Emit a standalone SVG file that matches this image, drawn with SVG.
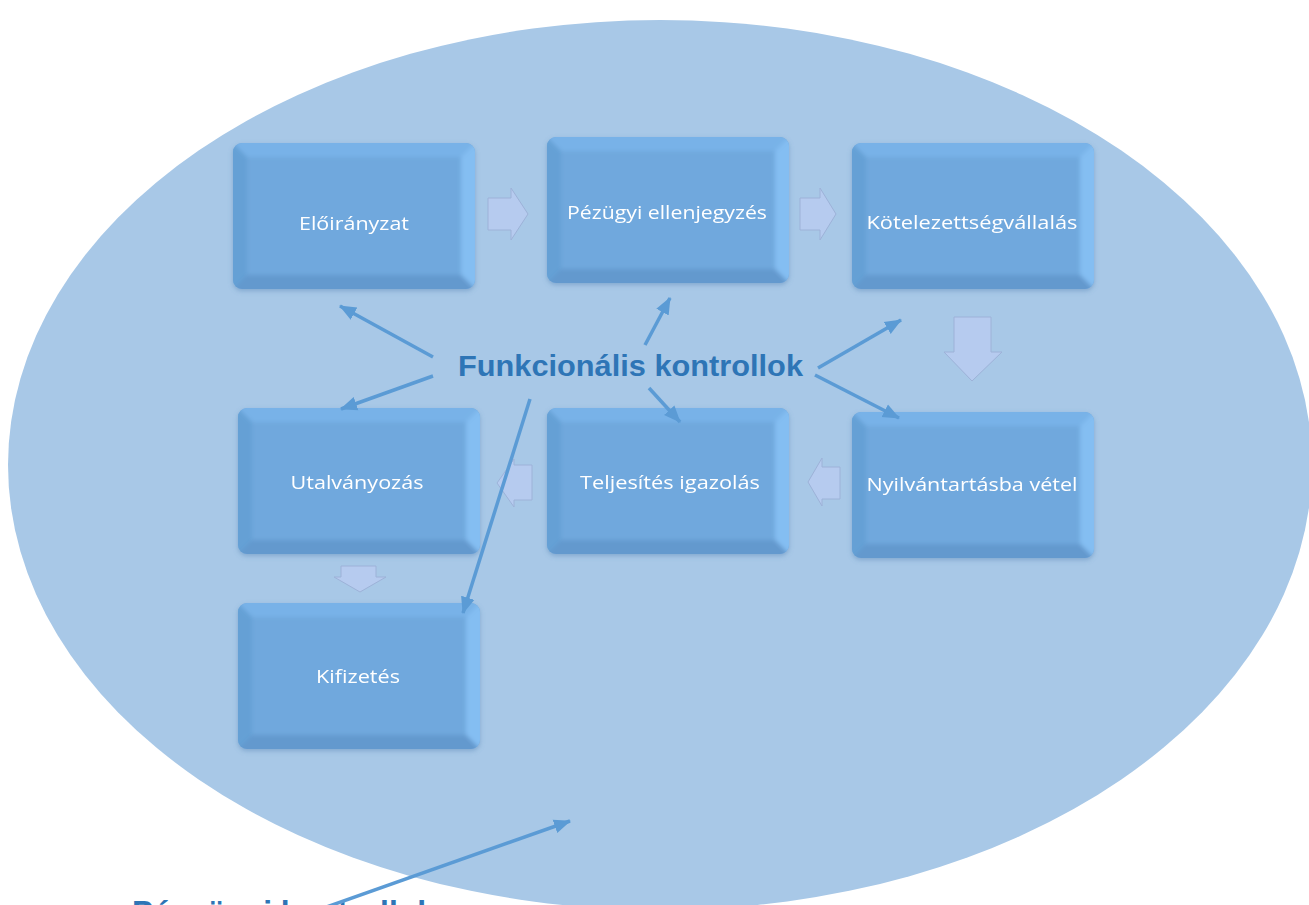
<svg xmlns="http://www.w3.org/2000/svg" width="1309" height="905" viewBox="0 0 1309 905">
<defs>
  <style>
    .bt{font-family:"Open Sans","Liberation Sans",sans-serif;font-size:18px;fill:#ffffff;text-anchor:middle;}
    .lbl{font-family:"Liberation Sans","Noto Sans",sans-serif;font-weight:bold;fill:#2E75B6;}
    .con{stroke:#5B9BD5;stroke-width:3.5;fill:none;marker-end:url(#ah);}
    .blk{fill:#B6CBEF;stroke:#9DB2D8;stroke-width:1;}
  </style>
  <marker id="ah" markerUnits="userSpaceOnUse" markerWidth="20" markerHeight="16" refX="16" refY="8" orient="auto">
    <path d="M0,1 L17,8 L0,15 Z" fill="#5B9BD5"/>
  </marker>
  <filter id="sh" x="-10%" y="-10%" width="120%" height="125%">
    <feGaussianBlur in="SourceAlpha" stdDeviation="2.5"/>
    <feOffset dx="0" dy="2" result="b"/>
    <feFlood flood-color="#5A88B8" flood-opacity="0.5"/>
    <feComposite in2="b" operator="in"/>
    <feMerge><feMergeNode/><feMergeNode in="SourceGraphic"/></feMerge>
  </filter>
  <filter id="soft" x="0" y="0" width="100%" height="100%">
    <feGaussianBlur stdDeviation="2"/>
  </filter>
  <clipPath id="bc"><rect x="0" y="0" width="242" height="146" rx="9"/></clipPath>
  <g id="box">
    <g clip-path="url(#bc)">
      <rect x="0" y="0" width="242" height="146" fill="#6EA7DC"/>
      <g filter="url(#soft)">
        <polygon points="-4,-4 246,-4 228,14 14,14" fill="#78B2E8"/>
        <polygon points="246,-4 246,150 228,132 228,14" fill="#84BEF2"/>
        <polygon points="-4,150 246,150 228,132 14,132" fill="#6399CE"/>
        <polygon points="-4,-4 -4,150 14,132 14,14" fill="#65A0D5"/>
        <rect x="14" y="14" width="214" height="118" fill="#6FA8DD"/>
      </g>
    </g>
  </g>
</defs>

<ellipse cx="660" cy="465" rx="652" ry="445" fill="#A8C8E7"/>

<g id="n1" filter="url(#sh)"><use href="#box" x="233" y="143"/><text class="bt" x="354" y="230" textLength="110" lengthAdjust="spacingAndGlyphs">Előirányzat</text></g>
<g id="n2" filter="url(#sh)"><use href="#box" x="547" y="137"/><text class="bt" x="667" y="219" textLength="200" lengthAdjust="spacingAndGlyphs">Pézügyi ellenjegyzés</text></g>
<g id="n3" filter="url(#sh)"><use href="#box" x="852" y="143"/><text class="bt" x="972" y="229" textLength="211" lengthAdjust="spacingAndGlyphs">Kötelezettségvállalás</text></g>
<g id="n4" filter="url(#sh)"><use href="#box" x="852" y="412"/><text class="bt" x="972" y="491" textLength="211" lengthAdjust="spacingAndGlyphs">Nyilvántartásba vétel</text></g>
<g id="n5" filter="url(#sh)"><use href="#box" x="547" y="408"/><text class="bt" x="670" y="489" textLength="180" lengthAdjust="spacingAndGlyphs">Teljesítés igazolás</text></g>
<g id="n6" filter="url(#sh)"><use href="#box" x="238" y="408"/><text class="bt" x="357" y="489" textLength="133" lengthAdjust="spacingAndGlyphs">Utalványozás</text></g>
<g id="n7" filter="url(#sh)"><use href="#box" x="238" y="603"/><text class="bt" x="358" y="683" textLength="84" lengthAdjust="spacingAndGlyphs">Kifizetés</text></g>

<g id="flow">
  <polygon class="blk" points="488,198 511,198 511,188 528,214 511,240 511,230 488,230"/>
  <polygon class="blk" points="800,198 820,198 820,188 836,214 820,240 820,230 800,230"/>
  <polygon class="blk" points="954,317 991,317 991,352 1002,352 972,381 944,352 954,352"/>
  <polygon class="blk" points="840,467 840,499 822,499 822,506 808,482 822,458 822,467"/>
  <polygon class="blk" points="532,465 532,500 514,500 514,507 497,483 514,459 514,465"/>
  <polygon class="blk" points="341,566 376,566 376,577 386,577 360,592 334,577 341,577"/>
</g>

<g id="label1"><text class="lbl" x="458" y="376" font-size="30" textLength="345" lengthAdjust="spacingAndGlyphs">Funkcionális kontrollok</text></g>
<g id="label2"><text class="lbl" x="132" y="924" font-size="34" textLength="303" lengthAdjust="spacingAndGlyphs">Pénzügyi kontrollok</text></g>

<g id="connectors">
  <line class="con" x1="433" y1="357" x2="340" y2="306"/>
  <line class="con" x1="433" y1="376" x2="341" y2="409"/>
  <line class="con" x1="645" y1="345" x2="670" y2="298"/>
  <line class="con" x1="649" y1="388" x2="680" y2="422"/>
  <line class="con" x1="530" y1="399" x2="463" y2="613"/>
  <line class="con" x1="818" y1="368" x2="901" y2="320"/>
  <line class="con" x1="815" y1="375" x2="899" y2="418"/>
  <line class="con" x1="318" y1="910" x2="570" y2="821"/>
</g>
</svg>
